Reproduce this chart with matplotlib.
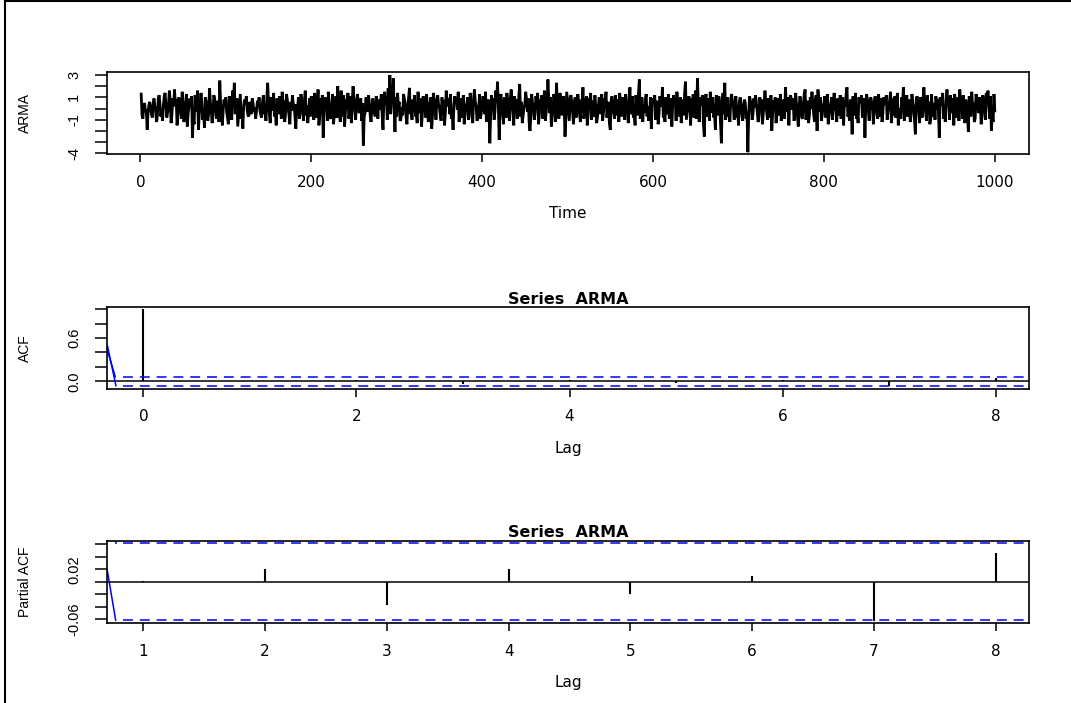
import numpy as np
import matplotlib
matplotlib.use("Agg")
import matplotlib.pyplot as plt
from matplotlib.lines import Line2D

# ---------------- data ----------------
arma_001_100 = [1.3, -0.6, -0.9, 0.2, 0.5, -0.3, -0.1, -1.9, -0.4, 0.3,
                0.6, 0.1, -0.5, -0.8, 0.4, 0.9, 0.2, -0.3, -1.2, -0.6,
                0.9, 1.2, 0.4, -0.7, -0.2, -1.1, 0.3, 1.1, 1.4, 0.2,
                -0.8, -0.3, 0.4, 1.6, 0.7, -1.3, -0.5, 0.9, 0.2, 1.7,
                0.5, 0.8, -1.5, -0.4, 1.0, 0.6, -0.2, -0.9, 1.5, 0.1,
                -1.2, -0.7, 0.6, 1.3, -1.6, -0.4, 0.2, 0.9, 0.4, 1.1,
                -2.6, -0.9, -1.4, 1.2, 0.8, -0.3, 1.6, -1.9, -0.5, 0.3,
                1.4, 0.5, -1.0, -0.2, -1.7, 1.0, 0.7, 0.1, -1.1, -0.4,
                1.8, 0.6, -0.2, -1.3, -0.6, 1.2, 0.9, 0.3, -0.9, 0.2,
                0.7, -1.2, 2.5, 0.4, -0.3, -1.5, -0.1, 0.8, 0.3, 1.0]
arma_101_200 = [-0.3, -0.8, -1.4, 1.1, 0.6, 0.2, -1.0, 1.6, 0.5, 2.3,
                -0.5, -0.1, 0.9, -1.6, -0.6, 0.3, 1.3, -0.9, -0.2, -1.8,
                0.3, 0.8, 0.4, 1.1, -0.1, -0.6, -0.7, 0.6, 0.2, -0.5,
                0.9, 0.4, -0.3, 0.1, -0.9, -0.2, 0.7, 0.3, 1.0, -0.2,
                -0.6, -0.8, 0.6, 1.2, -0.5, 0.2, -1.1, 0.8, 2.3, 0.6,
                -0.5, -1.3, 1.0, 0.4, -0.2, 1.4, -0.7, -0.1, -1.5, 0.9,
                0.2, -0.5, 1.1, 0.6, -0.9, 1.5, 0.3, 0.7, -1.2, -0.4,
                1.3, 0.8, 0.1, -0.6, -1.4, 0.6, -0.2, 1.2, 0.4, 0.3,
                -0.8, -1.8, 0.4, -0.1, 1.0, -0.9, -0.5, 1.3, 0.6, 0.2,
                -1.1, 0.7, 1.6, -0.6, 0.3, -1.3, -0.2, 0.9, -0.7, 1.1]
arma_201_300 = [0.4, 0.6, -1.0, 1.4, 0.2, -0.8, -0.3, 1.7, -1.5, -0.6,
                0.9, 0.2, 1.2, -2.6, -0.4, 1.0, 0.5, 0.7, -1.1, 1.5,
                0.3, -0.8, -0.9, 0.2, 1.3, -1.4, -0.6, 0.5, 1.1, -0.8,
                2.0, 0.4, -0.5, -1.2, 1.6, 0.1, -0.7, 1.2, -1.6, -0.4,
                0.8, 0.3, 1.4, -0.9, -0.3, 1.1, -1.3, 0.6, 2.0, 0.5,
                -0.2, -1.0, 0.7, 1.3, 0.6, -0.4, -0.2, 0.9, -1.1, 0.5,
                -3.3, -0.7, -0.4, 1.0, 0.8, -0.3, 1.2, 0.5, -0.6, -1.2,
                0.1, 0.9, 0.3, -0.5, -0.7, 1.1, 0.2, -0.9, 0.8, -0.1,
                0.4, 1.3, -0.6, -1.9, 0.7, 1.5, 0.4, 0.9, -1.0, 1.8,
                0.3, 3.0, -0.5, 0.8, 1.2, 2.7, 0.2, -2.1, 1.0, -0.7]
arma_301_400 = [1.4, 0.3, 0.6, -1.1, -0.9, 0.1, -0.6, 1.3, 0.9, 0.4,
                -0.7, -1.4, 0.2, 1.0, 1.85, -0.5, -0.3, -1.0, 0.8, 0.2,
                1.2, -0.7, -0.5, -1.3, 1.5, 0.0, -0.4, 0.9, -1.6, -0.6,
                1.1, 0.3, 0.4, -0.8, 1.3, 0.2, -1.2, -0.7, 0.5, 1.0,
                -1.8, -0.5, 1.4, 0.6, 0.3, -1.0, 0.8, 1.2, 0.4, 0.1,
                -0.6, -1.1, 1.0, 0.2, 0.7, -1.5, -0.4, 1.6, 0.7, 0.2,
                0.9, -0.5, 1.3, -0.9, -0.5, -1.9, 0.3, 1.1, 0.6, 0.8,
                -0.1, 1.5, -1.2, -0.4, 0.9, -0.8, 0.2, 1.2, -1.4, -0.6,
                0.3, 0.4, 1.0, -1.0, -0.7, 1.4, 0.3, 0.5, -1.3, 0.9,
                1.7, 0.6, 0.2, -1.1, -0.8, 0.0, 1.3, -0.9, -0.4, 0.2]
arma_401_500 = [1.1, 0.7, -0.5, 1.5, -1.2, -0.3, 0.8, 0.5, -3.1, -0.6,
                1.2, 0.4, 0.9, -1.0, -0.3, 1.6, 0.6, 2.4, 0.1, -2.8,
                0.7, 1.3, 0.3, -0.5, -1.4, 1.0, 0.2, -0.8, 1.4, 0.5,
                -0.4, -1.1, 0.9, 1.7, 0.6, -0.3, -1.5, 1.1, 0.2, 0.8,
                -0.9, -0.5, 1.2, 2.2, -0.7, 0.6, -1.3, -0.6, 0.1, 0.4,
                1.5, 0.8, -0.3, 0.9, -1.2, -2.0, -0.7, 1.3, 0.5, 0.4,
                -1.0, -0.4, 1.1, 0.2, 1.4, -1.4, -0.5, 0.8, 0.3, 1.2,
                -0.9, 0.6, 1.6, -1.1, -0.3, 0.5, 2.6, 0.8, -0.4, 1.0,
                -1.6, -0.7, 0.1, 1.3, 0.4, -1.2, 2.3, 0.5, -0.7, -0.9,
                1.4, 1.0, -0.6, -0.3, 1.1, 0.2, -2.5, -0.8, 1.5, 0.6]
arma_501_600 = [-0.3, -1.1, 0.9, 1.2, 0.5, -0.4, -1.4, 0.7, 1.0, -0.8,
                -0.2, 1.3, 0.6, -0.5, -1.2, 0.8, 0.0, 1.9, -0.9, -0.4,
                0.3, 1.1, -1.5, -0.6, 0.9, 0.4, 1.4, -1.0, -0.3, 0.7,
                -0.7, 1.2, 0.1, -1.3, -0.8, 0.2, 1.0, 0.6, -0.5, 1.3,
                -1.1, -0.4, 0.9, 0.5, 1.5, -0.8, -0.2, 0.6, -1.4, -1.9,
                0.7, 1.1, 0.3, -0.4, -0.9, 1.2, 0.0, -0.6, 0.8, -1.2,
                1.4, 0.3, -0.7, 1.0, 0.4, -0.5, -1.0, 1.3, 0.2, 0.6,
                -1.3, 0.9, 1.9, -0.5, -0.2, 1.1, -0.8, -0.4, -1.5, 1.2,
                0.1, -0.6, 1.4, 2.6, -0.9, -0.5, 1.0, -1.2, 0.3, -0.4,
                0.8, 1.3, -0.7, 0.2, -1.1, -0.6, 1.0, -1.8, 0.4, 0.9]
arma_601_700 = [0.5, 1.2, -1.0, -0.3, 0.7, -1.4, -0.5, 1.1, 0.6, 0.2,
                1.9, -0.8, -0.4, -1.2, 1.0, 0.1, -0.5, 1.3, -0.9, -0.6,
                0.9, -1.6, 0.3, 1.2, 0.4, 0.7, -1.1, 1.5, 0.0, -0.7,
                -0.5, 1.0, -1.3, 0.2, 0.8, -0.6, 1.4, 2.4, -1.0, -0.3,
                0.4, 1.1, 0.6, -1.5, 0.9, -0.2, 1.3, -0.8, 0.4, 1.6,
                -0.9, 2.7, 0.5, -1.2, 1.0, 0.3, 0.7, 1.2, -1.4, -2.5,
                0.6, 1.3, -0.7, -0.2, 0.9, -1.1, 1.5, -0.4, 0.3, 1.0,
                -0.8, -0.5, -1.9, 1.2, 0.1, -0.6, 1.1, 0.4, -1.3, -3.1,
                0.8, 1.4, -0.5, 2.3, -1.0, 0.3, 1.0, -0.7, -0.5, -1.2,
                0.9, 1.3, 0.4, 0.2, -1.0, 0.7, 1.1, -0.8, 0.3, -1.5]
arma_701_800 = [0.6, 1.0, 0.4, -0.6, -1.1, 0.2, 0.8, 0.5, -0.9, -0.3,
                -3.9, -0.4, 1.1, 0.7, 0.3, -1.0, -0.5, 0.9, 0.1, 1.2,
                0.5, -0.3, -1.2, -0.6, 1.0, 0.2, 0.8, -1.4, -0.5, 0.4,
                1.6, 0.6, -0.3, -1.0, 0.9, 0.0, -0.8, 1.2, -2.0, -0.4,
                0.7, 0.3, 1.0, -1.3, -0.5, 0.9, 0.4, -0.6, 1.3, -1.1,
                -0.4, 0.2, 0.8, -0.9, 1.9, 0.5, -0.3, 1.0, -1.5, 0.6,
                1.2, 0.7, -0.1, 0.9, -1.1, -0.5, 1.4, 0.3, -0.6, -1.6,
                0.2, 1.1, 0.5, -0.8, -0.9, 0.4, 1.3, 1.7, -1.0, -0.3,
                0.7, -1.3, -0.6, 1.0, 0.0, 1.5, 0.4, -0.5, -1.2, 0.9,
                1.2, -2.0, 1.7, 0.7, -0.3, 1.0, -1.1, -0.6, 0.2, 0.5]
arma_801_900 = [1.1, -0.8, -0.4, 1.3, -1.4, -0.6, 0.1, 0.5, 1.0, -1.0,
                0.7, 1.4, 0.3, -0.2, -1.2, 0.9, 0.5, -0.6, 1.2, -0.9,
                -0.3, 1.0, -1.5, 0.6, 0.2, 1.3, 1.9, -0.7, -0.4, -1.1,
                0.8, 0.2, -2.3, 1.1, 0.4, -0.6, 1.4, -0.9, -0.3, -1.3,
                1.0, 0.5, 0.7, 1.2, -0.8, -0.1, 0.9, -2.6, 0.5, 1.3,
                0.6, -0.3, -1.1, 0.8, 1.0, 0.4, -0.2, -1.4, 0.7, 1.1,
                0.2, -0.5, -0.9, 1.3, 0.0, -0.7, 0.9, -1.2, -0.4, 1.0,
                0.5, 0.6, 1.2, -1.0, -0.3, 0.3, 0.8, 1.5, -1.3, -0.2,
                0.9, -0.6, 1.1, -0.8, 0.4, 1.4, -1.5, -0.5, 0.0, -0.9,
                1.0, 0.3, 1.9, -1.1, -0.6, 0.4, 1.2, -0.7, 0.2, 0.8]
arma_901_1000 = [-1.2, -0.5, 1.3, 0.5, 0.1, -1.0, -2.3, 0.8, 1.1, 0.6,
                 -0.4, -1.3, 1.0, 0.2, -0.8, 0.7, 1.9, 0.4, -0.3, -1.1,
                 1.2, 0.2, 0.6, -1.4, -0.9, 1.3, -0.7, 0.0, 0.5, -1.0,
                 1.1, 0.5, 0.8, -0.3, -2.6, 1.0, 0.3, 0.6, 1.4, -0.9,
                 -0.2, -1.2, 0.7, 1.7, 0.6, 0.4, -1.0, 1.2, 0.1, -0.4,
                 0.9, -1.5, 1.3, 0.5, -0.8, -0.2, 1.0, -1.1, 1.7, 0.3,
                 0.6, -0.9, 1.2, 0.0, -1.3, 0.8, 0.4, -0.6, -2.1, 1.1,
                 0.3, -0.7, 1.5, 0.2, 0.5, -1.2, -0.9, 1.3, 0.8, 0.2,
                 -0.4, 1.0, 0.6, -1.4, -0.7, 1.2, 0.5, 0.3, -1.0, 1.4,
                 0.6, 1.6, 0.2, -0.9, 1.1, -2.0, -0.5, -1.2, 1.3, -0.2]

arma = np.array(arma_001_100 + arma_101_200 + arma_201_300 + arma_301_400 +
                arma_401_500 + arma_501_600 + arma_601_700 + arma_701_800 +
                arma_801_900 + arma_901_1000)
time_idx = np.arange(1, len(arma) + 1)

acf_lags = [0, 1, 2, 3, 4, 5, 6, 7, 8]
acf_vals = [1.0, -0.002, 0.02, -0.035, 0.019, -0.027, 0.018, -0.06, 0.05]
pacf_lags = [1, 2, 3, 4, 5, 6, 7, 8]
pacf_vals = [0.001, 0.020, -0.038, 0.020, -0.020, 0.009, -0.063, 0.046]
n_obs = 1000
ci = 1.96 / np.sqrt(n_obs)

# odd leading blue segments of the confidence lines (as drawn in the source)
acf_lead_upper_x = [-0.338, -0.263]
acf_lead_upper_y = [0.43, ci]
acf_lead_lower_x = [-0.338, -0.257]
acf_lead_lower_y = [0.50, -ci]
acf_dash_start = -0.194
pacf_lead_upper_x = [0.755, 0.776]
pacf_lead_upper_y = [0.0768, ci]
pacf_lead_lower_x = [0.704, 0.773]
pacf_lead_lower_y = [0.0188, -ci]
pacf_dash_start = 0.831

ts_xticks = [0, 200, 400, 600, 800, 1000]
ts_yticks = [-4, -3, -2, -1, 0, 1, 2, 3]
ts_ylabels = ["-4", "", "", "-1", "", "1", "", "3"]
acf_xticks = [0, 2, 4, 6, 8]
acf_yticks = [0.0, 0.2, 0.4, 0.6, 0.8, 1.0]
acf_ylabels = ["0.0", "", "", "0.6", "", ""]
pacf_xticks = [1, 2, 3, 4, 5, 6, 7, 8]
pacf_yticks = [-0.06, -0.04, -0.02, 0.0, 0.02, 0.04, 0.06]
pacf_ylabels = ["-0.06", "", "", "", "0.02", "", ""]

# ---------------- figure ----------------
W, H = 1071, 703
fig = plt.figure(figsize=(W / 100, H / 100), dpi=100)
fig.patch.set_facecolor("white")

HFONT = "DejaVu Sans"
VFONT = "Liberation Sans"


def make_axes(top_px, bottom_px):
    return fig.add_axes([107 / W, 1 - bottom_px / H, 922 / W, (bottom_px - top_px) / H])


def style(ax, xticks, yticks, ylabels, xlabel, ylabel):
    for s in ax.spines.values():
        s.set_linewidth(1.2)
        s.set_color("black")
    ax.set_xticks(xticks)
    ax.set_xticklabels([str(t) for t in xticks], fontfamily=HFONT, fontsize=11)
    ax.set_yticks(yticks)
    ax.set_yticklabels(ylabels, fontfamily=VFONT, fontsize=10.5, rotation=90,
                       va="center")
    ax.tick_params(axis="x", length=6.1, width=1.1, pad=8.5, colors="black")
    ax.tick_params(axis="y", length=8.6, width=1.1, pad=10.0, colors="black")
    ax.set_xlabel(xlabel, fontfamily=HFONT, fontsize=11, va="center")
    ax.set_ylabel(ylabel, fontfamily=VFONT, fontsize=10, va="center")
    h = ax.get_position().height * H
    ax.xaxis.set_label_coords(0.5, -(59.5 / h))
    ax.yaxis.set_label_coords((25 - 107) / 922, 0.5)


# ---- panel 1: time series ----
ax1 = make_axes(72, 154.3)
ax1.plot(time_idx, arma, color="black", lw=2.0, solid_joinstyle="miter")
ax1.set_xlim(-39, 1040)
ax1.set_ylim(-4.09, 3.27)
style(ax1, ts_xticks, ts_yticks, ts_ylabels, "Time", "ARMA")

# ---- panel 2: ACF ----
ax2 = make_axes(307, 389.2)
ax2.vlines(acf_lags, 0, acf_vals, color="black", lw=1.5)
ax2.axhline(0, color="black", lw=1.1)
ax2.plot(acf_lead_upper_x, acf_lead_upper_y, color="#0000FF", lw=1.1)
ax2.plot(acf_lead_lower_x, acf_lead_lower_y, color="#0000FF", lw=1.1)
for yv in (ci, -ci):
    ax2.plot([acf_dash_start, 9], [yv, yv], color="#0000FF", lw=1.1,
             dashes=(6.5, 4.5))
ax2.set_xlim(-0.341, 8.312)
ax2.set_ylim(-0.11, 1.03)
style(ax2, acf_xticks, acf_yticks, acf_ylabels, "Lag", "ACF")
ax2.set_title("Series  ARMA", fontfamily=HFONT, fontsize=11.5,
              fontweight="bold", pad=2.5)

# ---- panel 3: PACF ----
ax3 = make_axes(540.7, 623.3)
ax3.vlines(pacf_lags, 0, pacf_vals, color="black", lw=1.5)
ax3.axhline(0, color="black", lw=1.1)
ax3.plot(pacf_lead_upper_x, pacf_lead_upper_y, color="#0000FF", lw=1.1)
ax3.plot(pacf_lead_lower_x, pacf_lead_lower_y, color="#0000FF", lw=1.1)
for yv in (ci, -ci):
    ax3.plot([pacf_dash_start, 9], [yv, yv], color="#0000FF", lw=1.1,
             dashes=(6.5, 4.5))
ax3.set_xlim(0.702, 8.273)
ax3.set_ylim(-0.0669, 0.066)
style(ax3, pacf_xticks, pacf_yticks, pacf_ylabels, "Lag", "Partial ACF")
ax3.set_title("Series  ARMA", fontfamily=HFONT, fontsize=11.5,
              fontweight="bold", pad=2.5)

# ---- outer frame (left and top edges) ----
fig.add_artist(Line2D([5 / W, 5 / W], [0, 1 - 1 / H], color="black", lw=1.5,
                      transform=fig.transFigure))
fig.add_artist(Line2D([5 / W, 1], [1 - 1 / H, 1 - 1 / H], color="black", lw=1.5,
                      transform=fig.transFigure))

fig.savefig("out.png", dpi=100)
